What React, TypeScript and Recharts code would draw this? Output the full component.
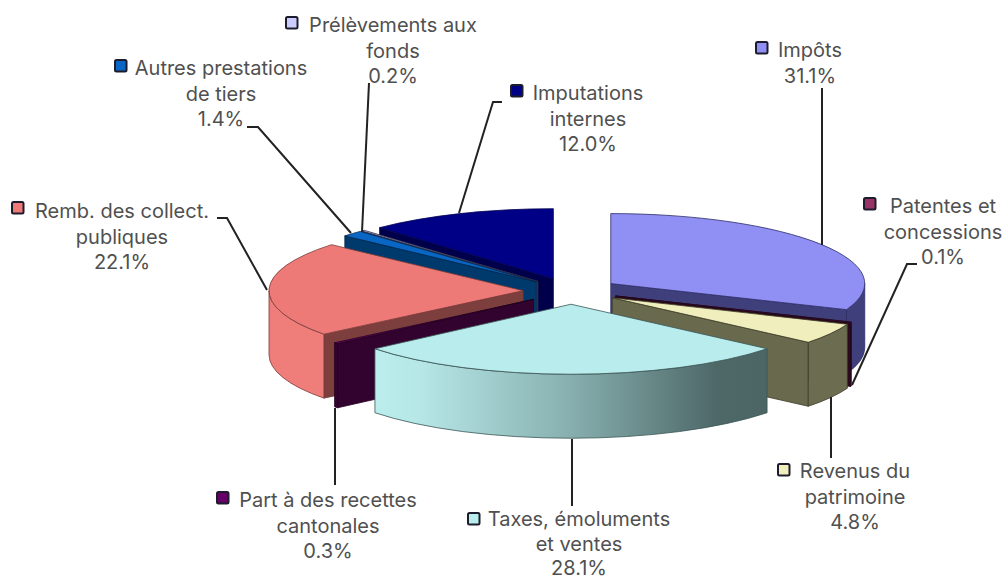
import React from 'react';
import { PieChart, Pie } from 'recharts';

const categories = [
  'Impôts',
  'Patentes et concessions',
  'Revenus du patrimoine',
  'Taxes, émoluments et ventes',
  'Part à des recettes cantonales',
  'Remb. des collect. publiques',
  'Autres prestations de tiers',
  'Prélèvements aux fonds',
  'Imputations internes',
];
const shares = [31.1, 0.1, 4.8, 28.1, 0.3, 22.1, 1.4, 0.2, 12.0];

// back to front, so nearer slices cover the ones behind
const drawOrder = [8, 7, 6, 5, 4, 0, 1, 2, 3];

const data = categories.map((name, i) => ({ name, value: shares[i] }));

const topColors = ['#8F8FF4', '#993366', '#F0EEBC', '#B9ECEC', '#660066', '#EE7A77', '#0A66C4', '#CCCCFF', '#000086'];
const cutColors = ['#3F3F7C', '#2A0A1C', '#69694D', '#5C7676', '#33032F', '#7C3F3D', '#003A6C', '#3A3A5A', '#00004A'];
const wallColors = ['#3F3F7C', '#2A0A1C', '#6C6C50', 'url(#taxesWall)', '#33032F', '#EF7D7A', '#003A6C', '#3A3A5A', '#00004A'];
const edgeColors = ['#2D2D66', '#220818', '#3C3C28', '#3A5555', '#220020', '#7A3A3A', '#002A50', '#2A2A44', '#000050'];

const TILT = 70 / 254;
const DEPTH = 64;
const EXPLODE = 48;

const labelLayout = [
  { lines: ['Impôts'], x: 810, y: 57, gap: 25.7, key: [756, 42], leader: '822,88 822,245' },
  { lines: ['Patentes et', 'concessions'], x: 943, y: 213, gap: 25.7, key: [864, 198], leader: '917,264 907,264 852,385' },
  { lines: ['Revenus du', 'patrimoine'], x: 855, y: 478, gap: 25.7, key: [778, 464], leader: '831,397 831,458' },
  { lines: ['Taxes, émoluments', 'et ventes'], x: 579, y: 526, gap: 24.5, key: [468, 513], leader: '572,439 572,506' },
  { lines: ['Part à des recettes', 'cantonales'], x: 328, y: 507, gap: 25.7, key: [217, 492], leader: '335,408 335,485' },
  { lines: ['Remb. des collect.', 'publiques'], x: 122, y: 218, gap: 25.7, key: [12, 202], leader: '217,218 227,218 267,290' },
  { lines: ['Autres prestations', 'de tiers'], x: 221, y: 75, gap: 25.7, key: [115, 60], leader: '247,127 258,127 351,233' },
  { lines: ['Prélèvements aux', 'fonds'], x: 393, y: 32, gap: 25.7, key: [286, 17], leader: '369,83 362,232' },
  { lines: ['Imputations', 'internes'], x: 588, y: 100, gap: 25.7, key: [511, 85], leader: '502,102 493,102 459,213' },
];

const rad = (deg: number) => (deg * Math.PI) / 180;

function Slice(props: any) {
  const { cx, cy, outerRadius: r, startAngle, endAngle, index } = props;
  const t1 = 90 - startAngle;
  const t2 = 90 - endAngle;
  const mid = rad((t1 + t2) / 2);
  const ax = cx + EXPLODE * Math.sin(mid);
  const ay = cy - EXPLODE * TILT * Math.cos(mid);
  const ry = r * TILT;
  const rim = (t: number) => [ax + r * Math.sin(rad(t)), ay - ry * Math.cos(rad(t))];

  const [x1, y1] = rim(t1);
  const [x2, y2] = rim(t2);
  const top = `M${ax},${ay} L${x1},${y1} A${r},${ry} 0 ${t2 - t1 > 180 ? 1 : 0} 1 ${x2},${y2} Z`;
  const cut = (x: number, y: number) =>
    `M${ax},${ay} L${x},${y} L${x},${y + DEPTH} L${ax},${ay + DEPTH} Z`;

  const w1 = Math.max(t1, 90);
  const w2 = Math.min(t2, 270);
  let wall = '';
  if (w2 > w1) {
    const [a, b] = rim(w1);
    const [c, d] = rim(w2);
    wall = `M${a},${b} A${r},${ry} 0 0 1 ${c},${d} L${c},${d + DEPTH} A${r},${ry} 0 0 0 ${a},${b + DEPTH} Z`;
  }

  const edge = edgeColors[index];
  return (
    <g>
      {Math.sin(rad(t1)) < 0 && <path d={cut(x1, y1)} fill={cutColors[index]} stroke={edge} strokeWidth={0.8} />}
      {Math.sin(rad(t2)) > 0 && <path d={cut(x2, y2)} fill={cutColors[index]} stroke={edge} strokeWidth={0.8} />}
      {wall && <path d={wall} fill={wallColors[index]} stroke={edge} strokeWidth={0.8} />}
      <path d={top} fill={topColors[index]} stroke={edge} strokeWidth={0.8} />
    </g>
  );
}

function SliceLabel(props: any) {
  const { index } = props;
  const l = labelLayout[index];
  const rows = [...l.lines, `${shares[index].toFixed(1)}%`];
  return (
    <g>
      <polyline points={l.leader} fill="none" stroke="#222222" strokeWidth={2} />
      <rect x={l.key[0]} y={l.key[1]} width={11.5} height={11.5} rx={1.5} fill={topColors[index]} stroke="#1c1c2c" strokeWidth={2} />
      {rows.map((row, i) => (
        <text
          key={row}
          x={l.x}
          y={l.y + i * l.gap}
          textAnchor="middle"
          fontFamily="Inter, sans-serif"
          fontSize={20}
          fill="#505050"
        >
          {row}
        </text>
      ))}
    </g>
  );
}

export default function App() {
  return (
    <div style={{ position: 'absolute', left: 0, top: 0, width: 1003, height: 581, background: '#ffffff' }}>
      <PieChart width={1003} height={581} margin={{ top: 0, right: 0, bottom: 0, left: 0 }}>
        <defs>
          <linearGradient id="taxesWall" x1="0" y1="0" x2="1" y2="0">
            <stop offset="0" stopColor="#BCEEEE" />
            <stop offset="0.12" stopColor="#B6E6E6" />
            <stop offset="0.5" stopColor="#87AFAF" />
            <stop offset="0.87" stopColor="#4E6868" />
            <stop offset="1" stopColor="#4C6565" />
          </linearGradient>
        </defs>
        {drawOrder.map((slot, i) => (
          <Pie
            key={categories[slot]}
            data={data}
            dataKey="value"
            nameKey="name"
            cx={571}
            cy={291}
            outerRadius={254}
            startAngle={90}
            endAngle={-270}
            isAnimationActive={false}
            labelLine={false}
            label={i === drawOrder.length - 1 ? SliceLabel : false}
            shape={(p: any) => (p.name === categories[slot] ? <Slice {...p} index={slot} /> : <g />)}
          />
        ))}
      </PieChart>
    </div>
  );
}
